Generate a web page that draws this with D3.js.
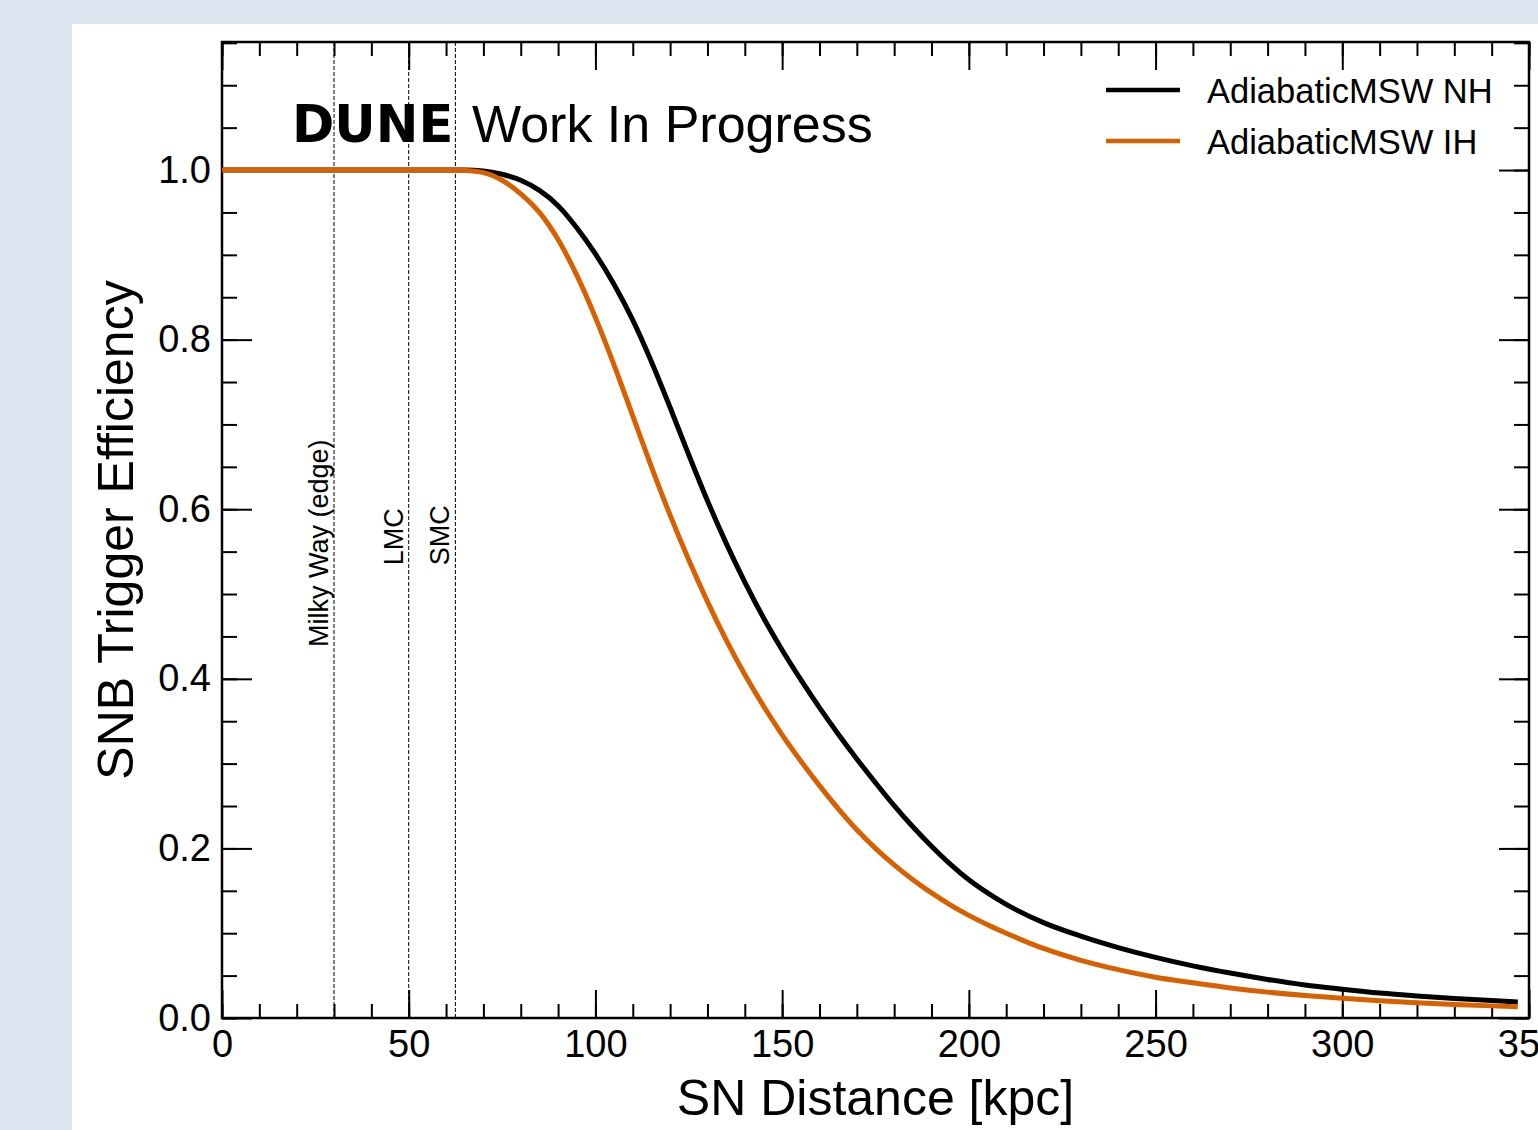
<!DOCTYPE html>
<html>
<head>
<meta charset="utf-8">
<script src="https://cdn.jsdelivr.net/npm/d3@7"></script>
<style>
  body { margin: 0; background: #dce6f1; }
  svg { display: block; }
  text { font-family: "Liberation Sans", Arial, sans-serif; fill: #000; }
</style>
</head>
<body>
<div id="chart"></div>
<script>
// distances [kpc] and trigger efficiencies
const distance = [0, 10, 20, 30, 40, 50, 60, 65, 70, 75, 80, 85, 90, 95, 100, 105, 110, 115, 120, 125,
    130, 135, 140, 145, 150, 155, 160, 165, 170, 175, 180, 185, 190, 195, 200, 205, 210, 220, 230, 240,
    250, 260, 270, 280, 290, 300, 310, 320, 330, 340, 347];
const effNH = [1, 1, 1, 1, 1, 1, 1, 1.0, 0.999, 0.995, 0.988, 0.976, 0.958, 0.932, 0.901, 0.865, 0.823, 0.774, 0.72, 0.664,
    0.61, 0.56, 0.514, 0.472, 0.434, 0.399, 0.366, 0.335, 0.3055, 0.2775, 0.2505, 0.2255, 0.2025, 0.1815, 0.163, 0.1475, 0.134, 0.1125, 0.0965, 0.083,
    0.0715, 0.0615, 0.053, 0.0455, 0.039, 0.034, 0.0295, 0.026, 0.023, 0.0205, 0.019];
const effIH = [1, 1, 1, 1, 1, 1, 1, 0.9995, 0.997, 0.988, 0.972, 0.95, 0.918, 0.876, 0.826, 0.77, 0.71, 0.65, 0.593, 0.54,
    0.491, 0.446, 0.405, 0.368, 0.334, 0.303, 0.274, 0.247, 0.222, 0.2, 0.1805, 0.163, 0.1475, 0.1335, 0.121, 0.11, 0.1, 0.082, 0.068, 0.057,
    0.048, 0.0415, 0.0355, 0.0305, 0.0265, 0.0232, 0.0204, 0.018, 0.016, 0.0143, 0.0133];
const seriesNames = ["AdiabaticMSW NH", "AdiabaticMSW IH"];
const seriesColors = ["#000000", "#d86000"];

const markerNames = ["Milky Way (edge)", "LMC", "SMC"];
const markerDist = [30, 50, 62.5];
const markerLabelY = [0.4375, 0.534, 0.534];

const xMajor = [0, 50, 100, 150, 200, 250, 300, 350];
const yMajor = [0, 0.2, 0.4, 0.6, 0.8, 1.0];

const width = 1538, height = 1130;
const margin = { top: 42, right: 9, bottom: 112, left: 222 };

const svg = d3.select("#chart").append("svg")
    .attr("width", width)
    .attr("height", height);

// white panel on the blue page
svg.append("rect")
    .attr("x", 72).attr("y", 24)
    .attr("width", width - 72).attr("height", height - 24)
    .attr("fill", "#fff");

const x = d3.scaleLinear().domain([0, 350]).range([margin.left, width - margin.right]);
const y = d3.scaleLinear().domain([0, 1.151]).range([height - margin.bottom, margin.top]);

const x0 = x.range()[0], x1 = x.range()[1];
const y0 = y.range()[0], y1 = y.range()[1];

// ticks, all inward
function styleAxis(g) {
    g.select(".domain").remove();
    g.selectAll(".tick line").attr("stroke", "#000").attr("stroke-width", 2);
    g.selectAll(".tick text").style("font-size", "38px").attr("font-family", null);
}

const xMinor = d3.range(0, 351, 10);
const yMinor = d3.range(0, 1.151, 0.05);

svg.append("g").attr("transform", `translate(0,${y0})`)
    .call(d3.axisBottom(x).tickValues(xMinor).tickSizeInner(-14).tickSizeOuter(0).tickFormat(""))
    .call(styleAxis);
svg.append("g").attr("transform", `translate(0,${y0})`)
    .call(d3.axisBottom(x).tickValues(xMajor).tickSizeInner(-28).tickSizeOuter(0).tickPadding(12).tickFormat(d3.format("d")))
    .call(styleAxis);
svg.append("g").attr("transform", `translate(0,${y1})`)
    .call(d3.axisTop(x).tickValues(xMinor).tickSizeInner(-14).tickSizeOuter(0).tickFormat(""))
    .call(styleAxis);
svg.append("g").attr("transform", `translate(0,${y1})`)
    .call(d3.axisTop(x).tickValues(xMajor).tickSizeInner(-28).tickSizeOuter(0).tickFormat(""))
    .call(styleAxis);

svg.append("g").attr("transform", `translate(${x0},0)`)
    .call(d3.axisLeft(y).tickValues(yMinor).tickSizeInner(-15).tickSizeOuter(0).tickFormat(""))
    .call(styleAxis);
svg.append("g").attr("transform", `translate(${x0},0)`)
    .call(d3.axisLeft(y).tickValues(yMajor).tickSizeInner(-30).tickSizeOuter(0).tickPadding(11).tickFormat(d3.format(".1f")))
    .call(styleAxis);
svg.append("g").attr("transform", `translate(${x1},0)`)
    .call(d3.axisRight(y).tickValues(yMinor).tickSizeInner(-15).tickSizeOuter(0).tickFormat(""))
    .call(styleAxis);
svg.append("g").attr("transform", `translate(${x1},0)`)
    .call(d3.axisRight(y).tickValues(yMajor).tickSizeInner(-30).tickSizeOuter(0).tickFormat(""))
    .call(styleAxis);

// frame
svg.append("rect")
    .attr("x", x0).attr("y", y1)
    .attr("width", x1 - x0).attr("height", y0 - y1)
    .attr("fill", "none").attr("stroke", "#000").attr("stroke-width", 2.5);

// reference distances
svg.append("g").selectAll("line")
    .data(markerDist)
    .join("line")
    .attr("x1", d => x(d)).attr("x2", d => x(d))
    .attr("y1", y1).attr("y2", y0)
    .attr("stroke", "#000").attr("stroke-width", 1)
    .attr("stroke-dasharray", "4,2");

svg.append("g").selectAll("text")
    .data(markerNames)
    .join("text")
    .attr("transform", (d, i) => `translate(${x(markerDist[i]) - 6},${y(markerLabelY[i])}) rotate(-90)`)
    .style("font-size", "27px")
    .text(d => d);

// curves
const line = d3.line()
    .x((d, i) => x(distance[i]))
    .y(d => y(d))
    .curve(d3.curveMonotoneX);

[effNH, effIH].forEach((vals, i) => {
    svg.append("path")
        .datum(vals)
        .attr("d", line)
        .attr("fill", "none")
        .attr("stroke", seriesColors[i])
        .attr("stroke-width", 5);
});

// legend
seriesNames.forEach((name, i) => {
    const ly = 90 + i * 51;
    svg.append("line")
        .attr("x1", 1106).attr("x2", 1180)
        .attr("y1", ly).attr("y2", ly)
        .attr("stroke", seriesColors[i]).attr("stroke-width", 4.5);
    svg.append("text")
        .attr("x", 1207).attr("y", ly + 13)
        .style("font-size", "34.5px")
        .text(name);
});

// label
const tag = svg.append("text").attr("x", 292).attr("y", 142).style("font-size", "52px");
tag.append("tspan")
    .attr("font-family", "DejaVu Sans")
    .attr("font-weight", "bold")
    .style("font-size", "51px")
    .text("DUNE");
tag.append("tspan").attr("x", 472).text("Work In Progress");

// axis titles
svg.append("text")
    .attr("x", (x0 + x1) / 2).attr("y", 1115)
    .attr("text-anchor", "middle")
    .style("font-size", "50px")
    .text("SN Distance [kpc]");

svg.append("text")
    .attr("transform", `translate(133,${(y0 + y1) / 2}) rotate(-90)`)
    .attr("text-anchor", "middle")
    .style("font-size", "50px")
    .text("SNB Trigger Efficiency");
</script>
</body>
</html>
